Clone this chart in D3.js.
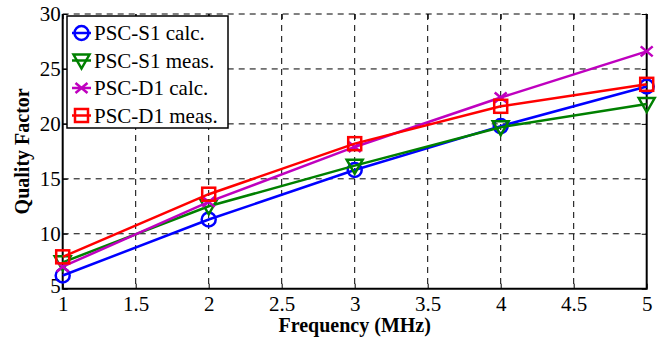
<!DOCTYPE html>
<meta charset="utf-8">
<script src="https://d3js.org/d3.v7.min.js"></script>
<style>
  body { margin: 0; background: #fff; }
  text { font-family: "Liberation Serif", "Times New Roman", serif; }
</style>
<svg id="chart" width="662" height="341"></svg>
<script>
// frequency (MHz)
const freq = [1, 2, 3, 4, 5];
const s1Calc = [6.2, 11.3, 15.8, 19.8, 23.4];
const s1Meas = [7.4, 12.5, 16.2, 19.7, 21.8];
const d1Calc = [7.0, 12.9, 17.9, 22.4, 26.6];
const d1Meas = [7.9, 13.6, 18.2, 21.6, 23.6];
const seriesNames = ["PSC-S1 calc.", "PSC-S1 meas.", "PSC-D1 calc.", "PSC-D1 meas."];
const xTicks = [1, 1.5, 2, 2.5, 3, 3.5, 4, 4.5, 5];
const yTicks = [5, 10, 15, 20, 25, 30];

const series = [
  { name: seriesNames[0], values: s1Calc, color: "#0000ff", marker: "circle" },
  { name: seriesNames[1], values: s1Meas, color: "#008000", marker: "tri" },
  { name: seriesNames[2], values: d1Calc, color: "#bf00bf", marker: "x" },
  { name: seriesNames[3], values: d1Meas, color: "#ff0000", marker: "square" }
];

const svg = d3.select("#chart");
const pL = 62.7, pR = 646.7, pT = 14, pB = 288.7;

const x = d3.scaleLinear().domain([1, 5]).range([pL, pR]);
const y = d3.scaleLinear().domain([5, 30]).range([pB, pT]);

// grid
const grid = svg.append("g");
grid.selectAll(".gx").data(xTicks.slice(1, -1)).enter().append("line")
  .attr("x1", d => x(d)).attr("x2", d => x(d))
  .attr("y1", pT).attr("y2", pB)
  .attr("stroke", "#000").attr("stroke-width", 1).attr("stroke-dasharray", "6,5");
grid.selectAll(".gy").data(yTicks.slice(1, -1)).enter().append("line")
  .attr("y1", d => y(d)).attr("y2", d => y(d))
  .attr("x1", pL).attr("x2", pR)
  .attr("stroke", "#000").attr("stroke-width", 1).attr("stroke-dasharray", "6,5");
// top border is dashed in the reference
grid.append("line").attr("x1", pL).attr("x2", pR).attr("y1", pT).attr("y2", pT)
  .attr("stroke", "#000").attr("stroke-width", 1).attr("stroke-dasharray", "6,5");

// axes with inward ticks
const axB = svg.append("g").attr("transform", `translate(0,${pB})`)
  .call(d3.axisBottom(x).tickValues(xTicks).tickSizeInner(-5).tickSizeOuter(0).tickPadding(7)
    .tickFormat(d3.format("")));
const axL = svg.append("g").attr("transform", `translate(${pL},0)`)
  .call(d3.axisLeft(y).tickValues(yTicks).tickSizeInner(-5).tickSizeOuter(0).tickPadding(2));
svg.append("g").attr("transform", `translate(${pR},0)`)
  .call(d3.axisRight(y).tickValues(yTicks).tickSizeInner(-5).tickSizeOuter(0).tickFormat(""));
svg.append("g").attr("transform", `translate(0,${pT})`)
  .call(d3.axisTop(x).tickValues(xTicks).tickSizeInner(-5).tickSizeOuter(0).tickFormat(""));

svg.selectAll(".domain").remove();
svg.selectAll(".tick line").attr("stroke", "#000").attr("stroke-width", 1);
[axB, axL].forEach(a => a.selectAll("text")
  .attr("font-family", "Liberation Serif").attr("font-size", 21).attr("fill", "#000"));
axB.selectAll("text").attr("dy", "0.71em");
// lowest y label sits a little higher so it clears the x label "1"
axL.selectAll(".tick text").filter(d => d === 5).attr("dy", "0.2em");

// frame: solid left, bottom, right
svg.append("path")
  .attr("d", `M${pL},${pT}V${pB}H${pR}V${pT}`)
  .attr("fill", "none").attr("stroke", "#000").attr("stroke-width", 2);

// axis titles
svg.append("text").attr("x", (pL + pR) / 2).attr("y", 332)
  .attr("text-anchor", "middle").attr("font-weight", "bold").attr("font-size", 20)
  .text("Frequency (MHz)");
svg.append("text").attr("transform", `translate(29,${(pT + pB) / 2}) rotate(-90)`)
  .attr("text-anchor", "middle").attr("font-weight", "bold").attr("font-size", 20)
  .text("Quality Factor");

function drawMarker(g, type, color) {
  if (type === "circle") {
    g.append("circle").attr("r", 7).attr("fill", "none").attr("stroke", color).attr("stroke-width", 2.5);
  } else if (type === "tri") {
    g.append("path").attr("d", "M-8,-6L8,-6L0,8Z").attr("fill", "none").attr("stroke", color).attr("stroke-width", 2.5);
  } else if (type === "x") {
    g.append("path").attr("d", "M-6,-5L6,5M-6,5L6,-5").attr("fill", "none").attr("stroke", color).attr("stroke-width", 2.5);
  } else {
    g.append("rect").attr("x", -6.5).attr("y", -6.5).attr("width", 13).attr("height", 13)
      .attr("fill", "none").attr("stroke", color).attr("stroke-width", 2.5);
  }
}

const line = d3.line().x((d, i) => x(freq[i])).y(d => y(d));
series.forEach(s => {
  svg.append("path").datum(s.values).attr("d", line)
    .attr("fill", "none").attr("stroke", s.color).attr("stroke-width", 2.5);
  s.values.forEach((v, i) => {
    const g = svg.append("g").attr("transform", `translate(${x(freq[i])},${y(v)})`);
    drawMarker(g, s.marker, s.color);
  });
});

// legend
const lg = svg.append("g");
lg.append("rect").attr("x", 67).attr("y", 16).attr("width", 161).attr("height", 112)
  .attr("fill", "#fff").attr("stroke", "#000").attr("stroke-width", 1.5);
series.forEach((s, i) => {
  const cy = 33 + i * 27.5;
  lg.append("line").attr("x1", 72).attr("x2", 91).attr("y1", cy).attr("y2", cy)
    .attr("stroke", s.color).attr("stroke-width", 2.5);
  drawMarker(lg.append("g").attr("transform", `translate(81.5,${cy})`), s.marker, s.color);
  lg.append("text").attr("x", 94).attr("y", cy).attr("dy", "0.35em")
    .attr("font-size", 21).text(s.name);
});
</script>
